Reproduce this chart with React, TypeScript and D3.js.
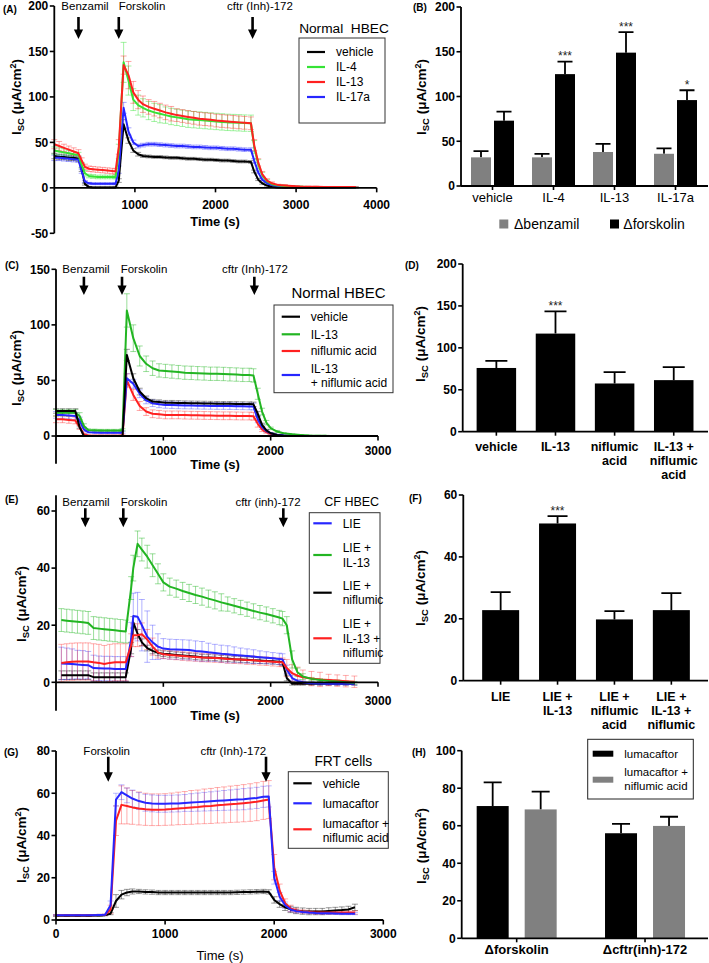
import React from "react";
import * as d3 from "d3";

const FONT = "'Liberation Sans', Arial, Helvetica, sans-serif";

// ================= Panel A (Normal HBEC, time course) =================
const A_TIME = [0, 60, 120, 180, 240, 300, 340, 380, 430, 480, 540, 600, 660, 720, 760, 800, 860, 920, 980, 1040, 1100, 1170, 1240, 1310, 1380, 1450, 1520, 1590, 1660, 1730, 1800, 1870, 1940, 2010, 2080, 2150, 2220, 2290, 2360, 2440, 2480, 2530, 2580, 2640, 2700, 2780, 2860, 2950, 3050, 3150, 3250, 3350, 3450, 3550, 3650, 3740];
const A_VEHICLE = [35, 34, 34, 33, 33, 32, 20, 4, 1, 0.5, 0.5, 0.5, 0.5, 0.5, 0.5, 8, 70, 52, 41, 37, 35, 34.5, 34, 34, 33.5, 33, 33, 32.5, 32, 32, 31.5, 31, 31, 30.5, 30, 30, 29.5, 29, 29, 28.5, 18, 9, 5, 2.5, 1, 0.3, 0.2, 0.2, 0.2, 0.2, 0.2, 0.2, 0.2, 0.2, 0.2, 0.2];
const A_VEHICLE_ERR = [3, 3, 3, 3, 3, 3, 2, 1, 0.5, 0.5, 0.5, 0.5, 0.5, 0.5, 0.5, 2, 5, 3, 2, 2, 1.5, 1.5, 1.5, 1.5, 1.5, 1.5, 1.5, 1.5, 1.5, 1.5, 1.5, 1.5, 1.5, 1.5, 1.5, 1.5, 1.5, 1.5, 1.5, 1.5, 1.5, 1, 1, 0.5, 0.5, 0.5, 0.5, 0.3, 0.3, 0.3, 0.3, 0.3, 0.3, 0.3, 0.3, 0.3];
const A_IL4 = [41, 40, 39, 38, 37, 36, 25, 16, 13, 12.5, 12, 12, 12, 12, 12, 40, 138, 118, 97, 91, 88, 85, 83, 81.5, 80, 78.5, 77.5, 76.5, 75.5, 75, 74.5, 74, 73.5, 73, 72.5, 72, 71.8, 71.5, 71.2, 71, 45, 26, 14, 7, 4, 2.5, 2, 1.5, 1.2, 1, 1, 0.8, 0.8, 0.7, 0.6, 0.5];
const A_IL4_ERR = [4, 4, 4, 3, 3, 3, 3, 3, 2, 2, 2, 2, 2, 2, 2, 8, 22, 16, 12, 11, 10, 10, 10, 10, 9, 9, 9, 9, 9, 9, 9, 9, 9, 9, 9, 9, 9, 9, 9, 9, 7, 5, 3, 2, 1, 1, 1, 0.5, 0.5, 0.5, 0.5, 0.5, 0.5, 0.5, 0.5, 0.5];
const A_IL13 = [48, 46, 44, 42, 40, 38, 30, 23, 21, 20.5, 20, 19.5, 19, 18.5, 18, 45, 135, 124, 105, 97, 92, 89, 87, 85, 83, 81.5, 80, 79, 78, 77, 76, 75.5, 75, 74, 73.5, 73, 72.5, 72, 71.5, 71, 47, 28, 15, 8, 5, 3, 2.5, 2, 1.5, 1.3, 1.2, 1, 1, 0.9, 0.8, 0.8];
const A_IL13_ERR = [5, 5, 4, 4, 4, 4, 3, 3, 3, 3, 3, 3, 3, 3, 3, 8, 10, 15, 12, 10, 9, 8, 8, 8, 8, 8, 7, 7, 7, 7, 7, 7, 7, 7, 7, 7, 7, 7, 7, 7, 6, 4, 3, 2, 1.5, 1, 1, 0.5, 0.5, 0.5, 0.5, 0.5, 0.5, 0.5, 0.5, 0.5];
const A_IL17 = [33, 33, 32.5, 32, 31.5, 31, 18, 7, 5, 4.5, 4.5, 4.5, 4.5, 4.5, 4.5, 20, 88, 62, 50, 46, 47, 48, 48, 47.5, 47, 46.5, 46, 46, 45.5, 45, 45, 44.5, 44, 44, 43.5, 43, 43, 42.5, 42, 42, 30, 17, 9, 5, 3, 2, 1.5, 1.2, 1, 0.9, 0.8, 0.7, 0.6, 0.6, 0.5, 0.5];
const A_IL17_ERR = [3, 3, 3, 3, 3, 3, 2, 1, 1, 1, 1, 1, 1, 1, 1, 4, 6, 4, 2.5, 2, 2, 2, 2, 2, 2, 2, 2, 2, 2, 2, 2, 2, 2, 2, 2, 2, 2, 2, 2, 2, 2, 1.5, 1, 1, 0.5, 0.5, 0.5, 0.5, 0.5, 0.5, 0.5, 0.5, 0.5, 0.5, 0.5, 0.5];
const A_ARROW_TIMES = [300, 800, 2460];
const A_ARROW_LABELS = ["Benzamil", "Forskolin", "cftr (Inh)-172"];
const A_X_TICKS = [1000, 2000, 3000, 4000];
const A_Y_TICKS = [-50, 0, 50, 100, 150, 200];

// ================= Panel B =================
const B_CATEGORIES = ["vehicle", "IL-4", "IL-13", "IL-17a"];
const B_BENZAMIL = [32, 32, 38, 36];
const B_BENZAMIL_ERR = [7, 4, 9, 6];
const B_FORSKOLIN = [73, 125, 149, 96];
const B_FORSKOLIN_ERR = [10, 14, 23, 11];
const B_SIG = ["", "***", "***", "*"];
const B_Y_TICKS = [0, 50, 100, 150, 200];

// ================= Panel C =================
const C_TIME = [0, 60, 120, 180, 220, 260, 300, 360, 420, 480, 540, 600, 620, 660, 720, 780, 840, 900, 960, 1020, 1080, 1140, 1200, 1260, 1320, 1380, 1440, 1500, 1560, 1620, 1680, 1740, 1800, 1840, 1880, 1920, 1960, 2000, 2060, 2120, 2200, 2280, 2360, 2440, 2520];
const C_VEHICLE = [22.5, 22.5, 22.5, 22.5, 8, 0, 0, 0, 0, 0, 0, 0, 0, 73, 52, 40, 34, 31, 30.5, 30, 30, 29.8, 29.6, 29.5, 29.4, 29.3, 29.2, 29.1, 29, 29, 28.9, 28.8, 28.7, 28.5, 20, 10, 5, 2.5, 1, 0.3, 0, 0, 0, 0, 0];
const C_VEHICLE_ERR = [2, 2, 2, 2, 1, 0, 0, 0, 0, 0, 0, 0, 0, 5, 4, 3, 2, 2, 2, 2, 2, 2, 2, 2, 2, 2, 2, 2, 2, 2, 2, 2, 2, 2, 2, 1.5, 1, 0.5, 0.3, 0, 0, 0, 0, 0, 0];
const C_IL13 = [21, 21, 21, 21, 18, 9, 5.5, 5.2, 5, 5, 5, 5, 5.5, 113, 88, 72, 65, 61, 59, 58.5, 58, 57.5, 57, 56.8, 56.5, 56.3, 56, 56, 55.8, 55.5, 55.3, 55, 55, 54.5, 38, 22, 12, 7, 4, 2.5, 1.5, 1, 0.5, 0.3, 0.3];
const C_IL13_ERR = [3, 3, 3, 3, 3, 2, 1, 1, 1, 1, 1, 1, 1, 15, 12, 9, 7, 6.5, 6, 6, 6, 6, 6, 6, 6, 6, 6, 6, 6, 6, 6, 6, 6, 6, 5, 3, 2, 1, 1, 0.5, 0.5, 0.3, 0.3, 0.3, 0.3];
const C_NIF = [15, 15, 14.5, 14, 8, 1.5, 0.5, 0.3, 0.3, 0.3, 0.3, 0.3, 0.5, 50, 37, 27, 22, 20, 19.5, 19, 19, 19, 18.8, 18.7, 18.6, 18.5, 18.4, 18.3, 18.2, 18.2, 18.1, 18, 18, 17.8, 11, 6, 3.5, 2, 1, 0.5, 0.2, 0, 0, 0, 0];
const C_NIF_ERR = [3, 3, 3, 3, 2, 1, 0.5, 0.5, 0.5, 0.5, 0.5, 0.5, 0.5, 6, 5, 4, 3.5, 3.5, 3.5, 3.5, 3.5, 3.5, 3.5, 3.5, 3.5, 3.5, 3.5, 3.5, 3.5, 3.5, 3.5, 3.5, 3.5, 3.5, 3, 2, 1, 0.5, 0.3, 0.3, 0, 0, 0, 0, 0];
const C_IL13NIF = [19, 19, 18.5, 18, 14, 6, 3.5, 3.2, 3, 3, 3, 3, 3.5, 52, 47, 38, 32, 29.5, 28.5, 28, 27.8, 27.6, 27.5, 27.4, 27.3, 27.2, 27.1, 27, 27, 26.9, 26.8, 26.7, 26.6, 26.5, 15, 8, 4.5, 2.5, 1.2, 0.6, 0.3, 0, 0, 0, 0];
const C_IL13NIF_ERR = [3, 3, 3, 3, 3, 2, 1, 1, 1, 1, 1, 1, 1, 4, 4, 3.5, 3, 3, 3, 3, 3, 3, 3, 3, 3, 3, 3, 3, 3, 3, 3, 3, 3, 3, 3, 2, 1, 0.5, 0.3, 0.3, 0, 0, 0, 0, 0];
const C_ARROW_TIMES = [260, 615, 1848];
const C_ARROW_LABELS = ["Benzamil", "Forskolin", "cftr (Inh)-172"];
const C_X_TICKS = [1000, 2000, 3000];
const C_Y_TICKS = [0, 50, 100, 150];

// ================= Panel D =================
const D_CATEGORIES = ["vehicle", "IL-13", "niflumic\nacid", "IL-13 +\nniflumic\nacid"];
const D_VALUES = [76, 117, 57.5, 61.5];
const D_ERR = [8.5, 26.5, 13.5, 15.5];
const D_SIG = ["", "***", "", ""];
const D_Y_TICKS = [0, 50, 100, 150, 200];

// ================= Panel E (CF HBEC) =================
const E_TIME = [50, 100, 150, 200, 250, 300, 350, 400, 450, 500, 550, 600, 650, 700, 720, 760, 800, 850, 900, 950, 1000, 1060, 1120, 1180, 1240, 1300, 1360, 1420, 1480, 1540, 1600, 1660, 1720, 1780, 1840, 1900, 1960, 2020, 2080, 2110, 2150, 2200, 2250, 2300, 2380, 2460, 2540, 2620, 2700, 2780];
const E_LIE = [6.6, 6.5, 6.4, 6.2, 6.1, 6, 5, 4.9, 4.8, 4.8, 4.7, 4.7, 4.7, 15, 23.2, 23, 20, 16, 14, 12.5, 11.8, 11.6, 11.5, 11.4, 11.3, 11, 10.8, 10.5, 10.3, 10, 9.8, 9.6, 9.4, 9.2, 9, 8.8, 8.6, 8.4, 8.2, 8, 4.5, 1.5, 0.5, 0, -0.3, -0.4, -0.5, -0.5, -0.5, -0.5];
const E_LIE_ERR = [5.7, 5.5, 5.3, 5, 5, 4.8, 4.5, 4.3, 4.3, 4.3, 4.3, 4.3, 4.3, 6, 8, 8.5, 9, 9, 6, 4.5, 3.5, 3.5, 3.5, 3.5, 3.5, 3.5, 3.5, 3.2, 3, 3, 3, 2.8, 2.6, 2.5, 2.4, 2.2, 2.1, 2, 2, 2, 1.5, 1, 0.5, 0.5, 0.5, 0.5, 0.5, 0.5, 0.5, 0.5];
const E_LIE_IL13 = [21.8, 21.6, 21.4, 21.2, 21, 20.8, 19, 18.8, 18.6, 18.4, 18.2, 18, 17.8, 33, 40, 48.5, 46.5, 44, 41, 38, 35, 33.5, 32.8, 32, 31.3, 30.6, 30, 29.3, 28.7, 28, 27.4, 26.8, 26.2, 25.6, 25, 24.4, 23.9, 23.3, 22.7, 22.3, 20, 8, 3.5, 2, 1.2, 0.8, 0.5, 0.3, 0, -0.2];
const E_LIE_IL13_ERR = [4, 4, 4, 4, 4, 4, 4, 4, 4, 4, 4, 4, 4, 4, 4.5, 4.5, 4, 4, 4, 3.5, 3, 3, 3, 3, 3, 3, 3, 3, 3, 3, 2.5, 2.5, 2.5, 2.5, 2.5, 2.5, 2.5, 2.5, 2.5, 2.5, 3, 3, 1.5, 1, 0.5, 0.5, 0.5, 0.5, 0.5, 0.5];
const E_LIE_NIF = [2.5, 2.5, 2.5, 2.5, 2.5, 2.5, 1.8, 1.8, 1.8, 1.8, 1.8, 1.8, 1.8, 12, 21, 17, 14, 12, 11, 10.3, 10, 9.8, 9.6, 9.4, 9.2, 9, 8.8, 8.7, 8.6, 8.4, 8.3, 8.1, 8, 7.9, 7.7, 7.6, 7.5, 7.4, 7.2, 7, 1.5, -0.5, -0.5, -0.5, -0.5, -0.5, -0.5, -0.5, -0.5, -0.5];
const E_LIE_NIF_ERR = [1.5, 1.5, 1.5, 1.5, 1.5, 1.5, 1.5, 1.5, 1.5, 1.5, 1.5, 1.5, 1.5, 2, 2, 1.5, 1.2, 1, 1, 1, 1, 1, 1, 1, 1, 1, 1, 1, 1, 1, 1, 1, 1, 1, 1, 1, 1, 1, 1, 1, 1, 0.5, 0.5, 0.5, 0.5, 0.5, 0.5, 0.5, 0.5, 0.5];
const E_LIE_IL13_NIF = [6.8, 7, 7.2, 7.3, 7.3, 7.3, 7, 6.8, 6.4, 6.8, 7, 7, 7, 13, 16.5, 16.5, 16.8, 15, 12.5, 10.5, 9.8, 9.6, 9.4, 9.2, 9, 8.9, 8.7, 8.6, 8.5, 8.4, 8.2, 8.1, 8, 7.8, 7.7, 7.5, 7.4, 7.2, 7, 7, 5, 3.2, 2.3, 1.8, 1.3, 1, 0.8, 0.6, 0.4, 0.2];
const E_LIE_IL13_NIF_ERR = [6.5, 6.5, 6.5, 6.5, 6.5, 6.5, 6.5, 6.5, 6.5, 6.5, 6.5, 6.5, 6.5, 4, 4, 4, 4, 3.5, 3, 2, 1.5, 1.5, 1.5, 1.5, 1.5, 1.5, 1.5, 1.5, 1.5, 1.5, 1.5, 1.5, 1.5, 1.5, 1.5, 1.5, 1.5, 1.5, 1.5, 1.5, 3, 3, 3, 2.5, 2.5, 2.5, 2, 2, 2, 2];
const E_ARROW_TIMES = [273, 627, 2118];
const E_ARROW_LABELS = ["Benzamil", "Forskolin", "cftr (inh)-172"];
const E_X_TICKS = [1000, 2000, 3000];
const E_Y_TICKS = [0, 20, 40, 60];

// ================= Panel F =================
const F_CATEGORIES = ["LIE", "LIE +\nIL-13", "LIE +\nniflumic\nacid", "LIE +\nIL-13 +\nniflumic"];
const F_VALUES = [22.8, 50.8, 19.8, 22.8];
const F_ERR = [5.8, 2.4, 2.7, 5.5];
const F_SIG = ["", "***", "", ""];
const F_Y_TICKS = [0, 20, 40, 60];

// ================= Panel G (FRT cells) =================
const G_TIME = [0, 100, 200, 300, 400, 450, 500, 550, 600, 650, 700, 760, 820, 880, 940, 1000, 1060, 1120, 1180, 1240, 1300, 1360, 1420, 1480, 1540, 1600, 1660, 1720, 1780, 1840, 1900, 1950, 2000, 2050, 2100, 2150, 2200, 2260, 2320, 2380, 2440, 2500, 2560, 2620, 2680, 2740];
const G_VEHICLE = [2, 2, 2, 2, 2.1, 2.3, 3, 9, 12, 13, 13.5, 13.5, 13.3, 13.2, 13, 13, 13, 13, 13, 13, 13, 13, 13, 13, 13, 13, 13.1, 13.2, 13.3, 13.4, 13.5, 13.3, 9.5, 7.5, 6, 5, 4.5, 4.2, 4, 4, 4, 4.3, 4.5, 4.7, 5, 6];
const G_VEHICLE_ERR = [0.3, 0.3, 0.3, 0.3, 0.3, 0.3, 0.5, 3, 2, 1.5, 1.2, 1, 1, 1, 1, 1, 1, 1, 1, 1, 1, 1, 1, 1, 1, 1, 1, 1, 1, 1, 1, 1, 1.5, 1.5, 1.5, 1.5, 1.5, 1.5, 1.5, 1.5, 1.5, 1.5, 1.5, 1.5, 1.5, 1.5];
const G_LUMA = [2.3, 2.3, 2.3, 2.3, 2.4, 2.5, 7, 57, 60.5, 59, 57.5, 56.3, 55.5, 55.2, 55, 55, 55.1, 55.2, 55.4, 55.6, 55.8, 56, 56.2, 56.4, 56.6, 56.8, 57, 57.2, 57.5, 57.8, 58.3, 58.5, 20, 11, 7, 5, 4.2, 3.8, 3.5, 3.3, 3.2, 3.2, 3.1, 3, 3, 3];
const G_LUMA_ERR = [0.3, 0.3, 0.3, 0.3, 0.3, 0.3, 2, 3, 3.5, 3.5, 4, 4, 4, 4, 4, 4, 4, 4, 4, 4.2, 4.3, 4.4, 4.5, 4.6, 4.7, 4.8, 4.9, 5, 5, 5, 5, 5, 3, 2, 1.5, 1, 0.8, 0.5, 0.5, 0.5, 0.5, 0.5, 0.5, 0.5, 0.5, 0.5];
const G_LUMA_NIF = [2.3, 2.3, 2.3, 2.3, 2.4, 2.5, 5, 47, 54.5, 54, 53.3, 52.8, 52.4, 52.2, 52.2, 52.3, 52.5, 52.8, 53, 53.3, 53.5, 53.8, 54, 54.3, 54.5, 54.8, 55, 55.3, 55.6, 56, 56.6, 57, 25, 14, 8, 5.5, 4.5, 4, 3.8, 3.6, 3.5, 3.5, 3.5, 3.5, 3.5, 3.5];
const G_LUMA_NIF_ERR = [0.3, 0.3, 0.3, 0.3, 0.3, 0.3, 2, 7, 9, 8.5, 8, 7.8, 7.6, 7.5, 7.5, 7.5, 7.6, 7.7, 7.8, 8, 8, 8.2, 8.3, 8.4, 8.5, 8.6, 8.7, 8.8, 8.9, 9, 9, 9, 6, 3, 2, 1.5, 1, 0.8, 0.8, 0.8, 0.8, 0.8, 0.8, 0.8, 0.8, 0.8];
const G_ARROW_TIMES = [479, 1925];
const G_ARROW_LABELS = ["Forskolin", "cftr (Inh)-172"];
const G_X_TICKS = [0, 1000, 2000, 3000];
const G_Y_TICKS = [0, 20, 40, 60, 80];

// ================= Panel H =================
const H_CATEGORIES = ["Δforskolin", "Δcftr(inh)-172"];
const H_LUMA = [70.5, 56];
const H_LUMA_ERR = [12.6, 5];
const H_LUMA_NIF = [68.7, 59.9];
const H_LUMA_NIF_ERR = [9.5, 4.9];
const H_Y_TICKS = [0, 20, 40, 60, 80, 100];

// ================= colours =================
const BLACK = "#000000";
const GREY = "#808080";
const RED = "#ff2020";
const BLUE = "#2626ff";
const GREEN_A = "#35e335";
const GREEN_C = "#22b522";

// ================= components =================
function YTitle({ x, y }: { x: number; y: number }) {
  return (
    <text transform={`translate(${x},${y}) rotate(-90)`} textAnchor="middle" fontFamily={FONT} fontWeight="bold" fontSize={13.5}>
      I<tspan fontSize={9.5} dy={3}>SC</tspan><tspan dy={-3}>{" (μA/cm"}</tspan><tspan fontSize={9} dy={-5}>2</tspan><tspan dy={5}>)</tspan>
    </text>
  );
}

function PanelLabel({ text, x, y }: { text: string; x: number; y: number }) {
  return (
    <text x={x} y={y} fontFamily={FONT} fontWeight="bold" fontSize={10}>{text}</text>
  );
}

function Arrow({ x, y1, y2 }: { x: number; y1: number; y2: number }) {
  const hw = 4.6, hh = 9.5, sw = 1.3;
  return (
    <path d={`M${x - sw},${y1}L${x + sw},${y1}L${x + sw},${y2 - hh}L${x + hw},${y2 - hh}L${x},${y2}L${x - hw},${y2 - hh}L${x - sw},${y2 - hh}Z`} fill="#000" />
  );
}

function MultiText({ lines, x, y, lh, ...rest }: any) {
  return (
    <text x={x} y={y} {...rest}>
      {lines.map((l: string, i: number) => (
        <tspan key={i} x={x} dy={i === 0 ? 0 : lh}>{l}</tspan>
      ))}
    </text>
  );
}

type Series = { color: string; errOpacity: number; values: number[]; errs: number[] };

function LinePanel({ cfg }: { cfg: any }) {
  const x = d3.scaleLinear().domain(cfg.xDomain).range(cfg.xRange);
  const y = d3.scaleLinear().domain(cfg.yDomain).range(cfg.yRange);
  const time: number[] = cfg.time;
  const line = d3
    .line<number>()
    .x((_, i) => x(time[i]))
    .y((v) => y(v));
  const series: Series[] = cfg.series;
  const order: number[] = cfg.drawOrder;
  const y0 = y(0);
  const ax = x(0);
  return (
    <g>
      {order.map((si) => {
        const s = series[si];
        return (
          <g key={"e" + si} stroke={s.color} strokeOpacity={s.errOpacity} strokeWidth={0.9} fill="none">
            {s.values.map((v, i) => {
              const e = s.errs[i];
              if (!(e > 0.25)) return null;
              const cx = x(time[i]);
              const ya = y(v + e);
              const yb = y(v - e);
              return <path key={i} d={`M${cx},${ya}V${yb}M${cx - 3},${ya}H${cx + 3}M${cx - 3},${yb}H${cx + 3}`} />;
            })}
          </g>
        );
      })}
      {order.map((si) => (
        <path key={"l" + si} d={line(series[si].values) || ""} stroke={series[si].color} strokeWidth={2} fill="none" strokeLinejoin="round" />
      ))}
      {/* axes */}
      <line x1={cfg.xRange[0]} x2={cfg.xRange[1]} y1={y0} y2={y0} stroke="#000" strokeWidth={1.8} />
      <line x1={ax} x2={ax} y1={y(cfg.yDomain[0])} y2={y(cfg.yDomain[1])} stroke="#000" strokeWidth={1.8} />
      {cfg.yTicks.map((t: number) => (
        <g key={"yt" + t}>
          <line x1={ax - 4.5} x2={ax} y1={y(t)} y2={y(t)} stroke="#000" strokeWidth={1.6} />
          <text x={ax - 6} y={y(t)} dy="0.36em" textAnchor="end" fontFamily={FONT} fontWeight="bold" fontSize={12}>{t}</text>
        </g>
      ))}
      {cfg.xTicks.map((t: number) => (
        <g key={"xt" + t}>
          <line x1={x(t)} x2={x(t)} y1={y0} y2={y0 + 4.5} stroke="#000" strokeWidth={1.6} />
          <text x={x(t)} y={cfg.xTickY} textAnchor="middle" fontFamily={FONT} fontWeight="bold" fontSize={12}>{t}</text>
        </g>
      ))}
      <text x={cfg.xTitle[0]} y={cfg.xTitle[1]} textAnchor="middle" fontFamily={FONT} fontWeight={cfg.xTitleBold ? "bold" : "normal"} fontSize={13}>Time (s)</text>
      <YTitle x={cfg.yTitle[0]} y={cfg.yTitle[1]} />
      <PanelLabel text={cfg.label} x={cfg.labelPos[0]} y={cfg.labelPos[1]} />
      {/* arrows and annotations */}
      {cfg.arrowTimes.map((t: number, i: number) => (
        <g key={"ar" + i}>
          <Arrow x={x(t)} y1={cfg.arrowY[0]} y2={cfg.arrowY[1]} />
          <text x={cfg.annotX[i]} y={cfg.annotY} textAnchor="middle" fontFamily={FONT} fontSize={11.5}>{cfg.arrowLabels[i]}</text>
        </g>
      ))}
      {/* legend */}
      <text x={cfg.legend.titleX} y={cfg.legend.titleY} textAnchor="middle" fontFamily={FONT} fontSize={cfg.legend.titleSize} style={{ whiteSpace: "pre" }}>{cfg.legend.title}</text>
      <rect x={cfg.legend.box[0]} y={cfg.legend.box[1]} width={cfg.legend.box[2] - cfg.legend.box[0]} height={cfg.legend.box[3] - cfg.legend.box[1]} fill="#fff" stroke="#333" strokeWidth={1} />
      {cfg.legend.entries.map((en: any, i: number) => (
        <g key={"lg" + i}>
          <line x1={cfg.legend.lineX[0]} x2={cfg.legend.lineX[1]} y1={en.lineY} y2={en.lineY} stroke={series[en.s].color} strokeWidth={2.2} />
          {en.lines.map((l: string, j: number) => (
            <text key={j} x={cfg.legend.textX} y={en.textY[j]} dy="0.36em" fontFamily={FONT} fontSize={12}>{l}</text>
          ))}
        </g>
      ))}
    </g>
  );
}

function BarPanel({ cfg }: { cfg: any }) {
  const y = d3.scaleLinear().domain(cfg.yDomain).range(cfg.yRange);
  const xc = d3.scalePoint<string>().domain(cfg.categories).range(cfg.catRange).padding(0.5);
  const ax = cfg.axisX;
  const y0 = y(0);
  return (
    <g>
      {cfg.series.map((s: any, si: number) => (
        <g key={"s" + si}>
          {cfg.categories.map((c: string, i: number) => {
            const cx = (xc(c) as number) + s.offset;
            const top = y(s.values[i]);
            const et = y(s.values[i] + s.errs[i]);
            return (
              <g key={c}>
                <path d={`M${cx},${top}V${et}M${cx - cfg.capW / 2},${et}H${cx + cfg.capW / 2}`} stroke="#000" strokeWidth={1.8} fill="none" />
                <rect x={cx - cfg.barW / 2} y={top} width={cfg.barW} height={y0 - top} fill={s.color} />
              </g>
            );
          })}
        </g>
      ))}
      {cfg.sig.map((t: string, i: number) => {
        if (!t) return null;
        const s = cfg.series[cfg.sigSeries];
        const c = cfg.categories[i];
        const cx = (xc(c) as number) + s.offset;
        return (
          <text key={"sig" + i} x={cx} y={y(s.values[i] + s.errs[i]) - 1.5} textAnchor="middle" fontFamily={FONT} fontSize={12} fill="#222">{t}</text>
        );
      })}
      <line x1={ax} x2={cfg.axisEnd} y1={y0} y2={y0} stroke="#000" strokeWidth={1.8} />
      <line x1={ax} x2={ax} y1={y0} y2={y(cfg.yDomain[1])} stroke="#000" strokeWidth={1.8} />
      {cfg.yTicks.map((t: number) => (
        <g key={"yt" + t}>
          <line x1={ax - 4.5} x2={ax} y1={y(t)} y2={y(t)} stroke="#000" strokeWidth={1.6} />
          <text x={ax - 6} y={y(t)} dy="0.36em" textAnchor="end" fontFamily={FONT} fontWeight="bold" fontSize={12}>{t}</text>
        </g>
      ))}
      {cfg.categories.map((c: string) => (
        <g key={"xl" + c}>
          <line x1={xc(c) as number} x2={xc(c) as number} y1={y0} y2={y0 + 4} stroke="#000" strokeWidth={1.6} />
          <MultiText lines={c.split("\n")} x={xc(c) as number} y={cfg.catY} lh={14} textAnchor="middle" fontFamily={FONT} fontWeight={cfg.catBold ? "bold" : "normal"} fontSize={cfg.catSize} />
        </g>
      ))}
      <YTitle x={cfg.yTitle[0]} y={cfg.yTitle[1]} />
      <PanelLabel text={cfg.label} x={cfg.labelPos[0]} y={cfg.labelPos[1]} />
    </g>
  );
}

// ================= panel configs =================
const panelA = {
  label: "(A)", labelPos: [3, 12.5],
  time: A_TIME,
  series: [
    { color: BLACK, errOpacity: 0.45, values: A_VEHICLE, errs: A_VEHICLE_ERR },
    { color: GREEN_A, errOpacity: 0.5, values: A_IL4, errs: A_IL4_ERR },
    { color: RED, errOpacity: 0.45, values: A_IL13, errs: A_IL13_ERR },
    { color: BLUE, errOpacity: 0.45, values: A_IL17, errs: A_IL17_ERR },
  ],
  drawOrder: [0, 3, 1, 2],
  xDomain: [0, 4000], xRange: [54.3, 376.7],
  yDomain: [-50, 200], yRange: [233.3, 6],
  xTicks: A_X_TICKS, yTicks: A_Y_TICKS, xTickY: 208.5,
  xTitle: [215, 226], xTitleBold: true,
  yTitle: [21, 97],
  arrowTimes: A_ARROW_TIMES, arrowLabels: A_ARROW_LABELS, arrowY: [17, 39], annotY: 9.5, annotX: [85, 142, 260],
  legend: {
    title: "Normal  HBEC", titleX: 344, titleY: 32.5, titleSize: 13.7,
    box: [299, 38, 385, 123], lineX: [307, 325], textX: 336,
    entries: [
      { s: 0, lineY: 52, lines: ["vehicle"], textY: [52] },
      { s: 1, lineY: 67, lines: ["IL-4"], textY: [67] },
      { s: 2, lineY: 82, lines: ["IL-13"], textY: [82] },
      { s: 3, lineY: 97, lines: ["IL-17a"], textY: [97] },
    ],
  },
};

const panelC = {
  label: "(C)", labelPos: [5, 269],
  time: C_TIME,
  series: [
    { color: BLACK, errOpacity: 0.45, values: C_VEHICLE, errs: C_VEHICLE_ERR },
    { color: GREEN_C, errOpacity: 0.5, values: C_IL13, errs: C_IL13_ERR },
    { color: RED, errOpacity: 0.45, values: C_NIF, errs: C_NIF_ERR },
    { color: BLUE, errOpacity: 0.4, values: C_IL13NIF, errs: C_IL13NIF_ERR },
  ],
  drawOrder: [2, 3, 1, 0],
  xDomain: [0, 3000], xRange: [56, 378],
  yDomain: [-25, 150], yRange: [463.8, 269.3],
  xTicks: C_X_TICKS, yTicks: C_Y_TICKS, xTickY: 455,
  xTitle: [215, 469], xTitleBold: true,
  yTitle: [21, 368],
  arrowTimes: C_ARROW_TIMES, arrowLabels: C_ARROW_LABELS, arrowY: [276.7, 295], annotY: 273, annotX: [86, 144, 255],
  legend: {
    title: "Normal HBEC", titleX: 338.5, titleY: 297.5, titleSize: 15,
    box: [274, 305, 393, 392.7], lineX: [281.7, 300], textX: 310.7,
    entries: [
      { s: 0, lineY: 316.7, lines: ["vehicle"], textY: [316.7] },
      { s: 1, lineY: 334.3, lines: ["IL-13"], textY: [334.3] },
      { s: 2, lineY: 351, lines: ["niflumic acid"], textY: [351] },
      { s: 3, lineY: 375, lines: ["IL-13", "+ niflumic acid"], textY: [368.3, 382.7] },
    ],
  },
};

const panelE = {
  label: "(E)", labelPos: [5, 503],
  time: E_TIME,
  series: [
    { color: BLUE, errOpacity: 0.4, values: E_LIE, errs: E_LIE_ERR },
    { color: GREEN_C, errOpacity: 0.5, values: E_LIE_IL13, errs: E_LIE_IL13_ERR },
    { color: BLACK, errOpacity: 0.45, values: E_LIE_NIF, errs: E_LIE_NIF_ERR },
    { color: RED, errOpacity: 0.4, values: E_LIE_IL13_NIF, errs: E_LIE_IL13_NIF_ERR },
  ],
  drawOrder: [2, 0, 3, 1],
  xDomain: [0, 3000], xRange: [56, 378],
  yDomain: [-10, 65.5], yRange: [710.85, 495.3],
  xTicks: E_X_TICKS, yTicks: E_Y_TICKS, xTickY: 705,
  xTitle: [215, 720], xTitleBold: true,
  yTitle: [26, 604],
  arrowTimes: E_ARROW_TIMES, arrowLabels: E_ARROW_LABELS, arrowY: [508.3, 527.3], annotY: 505.5, annotX: [86, 144, 268],
  legend: {
    title: "CF HBEC", titleX: 351.7, titleY: 505.5, titleSize: 12.5,
    box: [309.3, 512.7, 380, 663.3], lineX: [313.3, 331.7], textX: 342.7,
    entries: [
      { s: 0, lineY: 523.3, lines: ["LIE"], textY: [523.3] },
      { s: 1, lineY: 555, lines: ["LIE +", "IL-13"], textY: [547.7, 562.3] },
      { s: 2, lineY: 592.7, lines: ["LIE +", "niflumic"], textY: [586, 600] },
      { s: 3, lineY: 638.3, lines: ["LIE +", "IL-13 +", "niflumic"], textY: [624, 638.3, 652.7] },
    ],
  },
};

const panelG = {
  label: "(G)", labelPos: [4, 756],
  time: G_TIME,
  series: [
    { color: BLACK, errOpacity: 0.45, values: G_VEHICLE, errs: G_VEHICLE_ERR },
    { color: BLUE, errOpacity: 0.35, values: G_LUMA, errs: G_LUMA_ERR },
    { color: RED, errOpacity: 0.4, values: G_LUMA_NIF, errs: G_LUMA_NIF_ERR },
  ],
  drawOrder: [0, 2, 1],
  xDomain: [0, 3000], xRange: [56, 383.3],
  yDomain: [0, 80], yRange: [920, 751],
  xTicks: G_X_TICKS, yTicks: G_Y_TICKS, xTickY: 938,
  xTitle: [220, 959.5], xTitleBold: false,
  yTitle: [26, 845],
  arrowTimes: G_ARROW_TIMES, arrowLabels: G_ARROW_LABELS, arrowY: [756.7, 781.7], annotY: 755, annotX: [106.7, 233.3],
  legend: {
    title: "FRT cells", titleX: 343.3, titleY: 766, titleSize: 13.8,
    box: [288.3, 771.7, 388.3, 848.3], lineX: [293.3, 311.7], textX: 322.7,
    entries: [
      { s: 0, lineY: 783.3, lines: ["vehicle"], textY: [783.3] },
      { s: 1, lineY: 803.3, lines: ["lumacaftor"], textY: [803.3] },
      { s: 2, lineY: 829.3, lines: ["lumacaftor +", "niflumic acid"], textY: [823.3, 837.3] },
    ],
  },
};

const panelB = {
  label: "(B)", labelPos: [413, 11],
  categories: B_CATEGORIES,
  series: [
    { values: B_BENZAMIL, errs: B_BENZAMIL_ERR, color: GREY, offset: -11.5 },
    { values: B_FORSKOLIN, errs: B_FORSKOLIN_ERR, color: BLACK, offset: 11.5 },
  ],
  sig: B_SIG, sigSeries: 1,
  yDomain: [0, 200], yRange: [186, 7], yTicks: B_Y_TICKS,
  axisX: 461, axisEnd: 708, catRange: [462, 706],
  barW: 20, capW: 15,
  catY: 202, catBold: false, catSize: 13,
  yTitle: [425.5, 97],
};

const panelD = {
  label: "(D)", labelPos: [405, 269],
  categories: D_CATEGORIES,
  series: [{ values: D_VALUES, errs: D_ERR, color: BLACK, offset: 0 }],
  sig: D_SIG, sigSeries: 0,
  yDomain: [0, 200], yRange: [431.7, 264], yTicks: D_Y_TICKS,
  axisX: 462.7, axisEnd: 708, catRange: [466.8, 703.3],
  barW: 39.5, capW: 22,
  catY: 451, catBold: true, catSize: 12.5,
  yTitle: [425, 344],
};

const panelF = {
  label: "(F)", labelPos: [409, 501.7],
  categories: F_CATEGORIES,
  series: [{ values: F_VALUES, errs: F_ERR, color: BLACK, offset: 0 }],
  sig: F_SIG, sigSeries: 0,
  yDomain: [0, 60], yRange: [680.7, 495], yTicks: F_Y_TICKS,
  axisX: 463.3, axisEnd: 708, catRange: [472.2, 699.8],
  barW: 37, capW: 20,
  catY: 701, catBold: true, catSize: 12.5,
  yTitle: [425, 588],
};

const panelH = {
  label: "(H)", labelPos: [412, 756],
  categories: H_CATEGORIES,
  series: [
    { values: H_LUMA, errs: H_LUMA_ERR, color: BLACK, offset: -24 },
    { values: H_LUMA_NIF, errs: H_LUMA_NIF_ERR, color: GREY, offset: 24 },
  ],
  sig: ["", ""], sigSeries: 0,
  yDomain: [0, 100], yRange: [938.3, 750.7], yTicks: H_Y_TICKS,
  axisX: 461.7, axisEnd: 708, catRange: [452.5, 709.2],
  barW: 32, capW: 18,
  catY: 954, catBold: true, catSize: 13,
  yTitle: [425.5, 846],
};

export default function App() {
  return (
    <svg width={709} height={963} viewBox="0 0 709 963" style={{ position: "absolute", left: 0, top: 0, background: "#fff" }}>
      <rect x={0} y={0} width={709} height={963} fill="#fff" />
      <LinePanel cfg={panelA} />
      <BarPanel cfg={panelB} />
      {/* B legend */}
      <rect x={499.3} y={219.5} width={9} height={9} fill={GREY} />
      <text x={514} y={228.5} fontFamily={FONT} fontSize={14}>Δbenzamil</text>
      <rect x={610} y={219.5} width={9} height={9} fill={BLACK} />
      <text x={623.3} y={228.5} fontFamily={FONT} fontSize={14}>Δforskolin</text>

      <LinePanel cfg={panelC} />
      <BarPanel cfg={panelD} />
      <LinePanel cfg={panelE} />
      <BarPanel cfg={panelF} />
      <LinePanel cfg={panelG} />
      <BarPanel cfg={panelH} />
      {/* H legend */}
      <rect x={587.7} y={739.3} width={105.6} height={59.7} fill="#fff" stroke="#222" strokeWidth={1} />
      <rect x={592.7} y={750.7} width={20.6} height={6} fill={BLACK} />
      <text x={624.3} y={754} dy="0.36em" fontFamily={FONT} fontSize={11.5}>lumacaftor</text>
      <rect x={592.7} y={776.7} width={20.6} height={6} fill={GREY} />
      <text x={624.3} y={771.7} dy="0.36em" fontFamily={FONT} fontSize={11.5}>lumacaftor +</text>
      <text x={624.3} y={785.7} dy="0.36em" fontFamily={FONT} fontSize={11.5}>niflumic acid</text>
    </svg>
  );
}
